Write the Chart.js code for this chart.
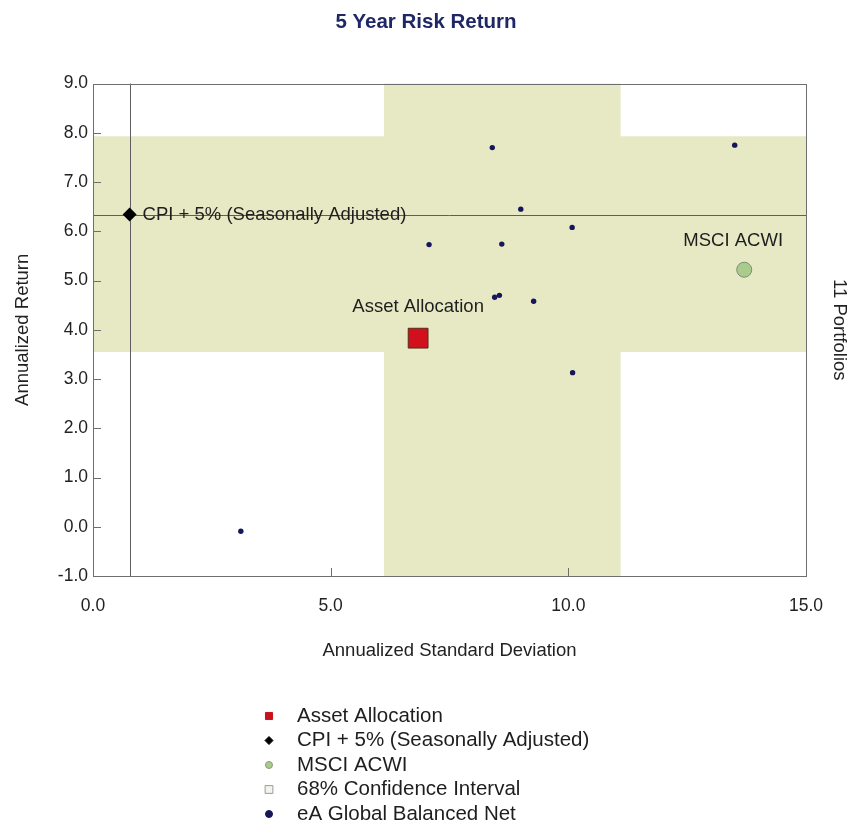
<!DOCTYPE html>
<html>
<head>
<meta charset="utf-8">
<script src="https://cdn.jsdelivr.net/npm/chart.js@4.4.1/dist/chart.umd.min.js"></script>
<style>
    html, body { margin: 0; padding: 0; background: #fff; }
    #wrap { width: 852px; height: 831px; }
</style>
</head>
<body>
<div id="wrap"><canvas id="risk-return" width="852" height="831"></canvas></div>
<script>
// eA Global Balanced Net universe (std dev / return)
const peerStdDev = [8.40, 13.50, 9.00, 10.08, 7.07, 8.60, 8.45, 8.55, 9.27, 10.09, 3.11];
const peerReturn = [7.70, 7.75, 6.45, 6.08, 5.73, 5.74, 4.66, 4.70, 4.58, 3.13, -0.09];
// Single points
const assetAllocation = [6.84, 3.83];
const cpiPlus5 = [0.77, 6.34];
const msciAcwi = [13.70, 5.22];
// 68% confidence interval bounds
const ciStdDev = [6.12, 11.10];
const ciReturn = [3.55, 7.93];
// Axis ticks
const xTicks = [0, 5, 10, 15];
const yTicks = [-1, 0, 1, 2, 3, 4, 5, 6, 7, 8, 9];

const FONT = "'Liberation Sans', Arial, sans-serif";
const bandColor = '#e6e9c4';
const lineColor = '#5e5e5e';

// Draws the confidence cross, CPI reference lines, frame and inward ticks
const bandPlugin = {
    id: 'bands',
    beforeDatasetsDraw(chart) {
        const { ctx, chartArea: a, scales: { x, y } } = chart;
        ctx.save();
        ctx.fillStyle = bandColor;
        const yTop = y.getPixelForValue(ciReturn[1]);
        const yBot = y.getPixelForValue(ciReturn[0]);
        ctx.fillRect(a.left, yTop, a.right - a.left, yBot - yTop);
        const xL = x.getPixelForValue(ciStdDev[0]);
        const xR = x.getPixelForValue(ciStdDev[1]);
        ctx.fillRect(xL, a.top, xR - xL, a.bottom - a.top);

        // CPI lines
        ctx.strokeStyle = lineColor;
        ctx.lineWidth = 1;
        const cx = Math.round(x.getPixelForValue(cpiPlus5[0])) + 0.5;
        const cy = Math.round(y.getPixelForValue(cpiPlus5[1])) + 0.5;
        ctx.beginPath();
        ctx.moveTo(cx, a.top);
        ctx.lineTo(cx, a.bottom);
        ctx.moveTo(a.left, cy);
        ctx.lineTo(a.right, cy);
        ctx.stroke();

        // frame
        ctx.strokeStyle = '#6e6e6e';
        ctx.strokeRect(Math.round(a.left) + 0.5, Math.round(a.top) + 0.5,
            Math.round(a.right - a.left), Math.round(a.bottom - a.top));

        // inward tick marks
        ctx.beginPath();
        x.ticks.forEach(t => {
            const px = Math.round(x.getPixelForValue(t.value)) + 0.5;
            ctx.moveTo(px, a.bottom);
            ctx.lineTo(px, a.bottom - 8);
        });
        y.ticks.forEach(t => {
            const py = Math.round(y.getPixelForValue(t.value)) + 0.5;
            ctx.moveTo(a.left, py);
            ctx.lineTo(a.left + 8, py);
        });
        ctx.stroke();
        ctx.restore();
    },
    afterDatasetsDraw(chart) {
        const { ctx, scales: { x, y } } = chart;
        ctx.save();
        ctx.fillStyle = '#1e1e1e';
        ctx.font = '18.5px ' + FONT;
        ctx.textBaseline = 'middle';
        ctx.textAlign = 'left';
        ctx.fillText('CPI + 5% (Seasonally Adjusted)',
            x.getPixelForValue(cpiPlus5[0]) + 13, y.getPixelForValue(cpiPlus5[1]));
        ctx.textAlign = 'center';
        ctx.fillText('Asset Allocation',
            x.getPixelForValue(assetAllocation[0]), y.getPixelForValue(assetAllocation[1]) - 31);
        ctx.fillText('MSCI ACWI',
            x.getPixelForValue(msciAcwi[0]) - 11, y.getPixelForValue(msciAcwi[1]) - 29);
        ctx.restore();
    },
    // Legend list under the chart, one item per row
    afterDraw(chart) {
        const { ctx } = chart;
        const items = [
            { text: 'Asset Allocation', style: 'rect', radius: 5, fill: '#c8101e', border: '#c8101e' },
            { text: 'CPI + 5% (Seasonally Adjusted)', style: 'rectRot', radius: 4, fill: '#000', border: '#000' },
            { text: 'MSCI ACWI', style: 'circle', radius: 3.5, fill: '#a9cc8c', border: '#8a9a80' },
            { text: '68% Confidence Interval', style: 'rect', radius: 5.5, fill: '#f4f4ec', border: '#9a9a9a' },
            { text: 'eA Global Balanced Net', style: 'circle', radius: 3.5, fill: '#16165a', border: '#16165a' }
        ];
        ctx.save();
        ctx.font = '20.5px ' + FONT;
        ctx.textBaseline = 'middle';
        ctx.textAlign = 'left';
        items.forEach((item, i) => {
            const rowY = 716 + i * 24.5;
            ctx.fillStyle = item.fill;
            ctx.strokeStyle = item.border;
            Chart.helpers.drawPoint(ctx, {
                pointStyle: item.style, radius: item.radius, rotation: 0, borderWidth: 1
            }, 269, rowY);
            ctx.fillStyle = '#1e1e1e';
            ctx.fillText(item.text, 297, rowY);
        });
        ctx.restore();
    }
};

const toPoints = (xs, ys) => xs.map((v, i) => ({ x: v, y: ys[i] }));

document.addEventListener('DOMContentLoaded', function () {
    const canvas = document.getElementById('risk-return');
    const chart = new Chart(canvas, {
        type: 'scatter',
        data: {
            datasets: [{
                label: 'eA Global Balanced Net',
                data: toPoints(peerStdDev, peerReturn),
                backgroundColor: '#16165a',
                borderWidth: 0,
                pointRadius: 2.7
            }, {
                label: 'Asset Allocation',
                data: [{ x: assetAllocation[0], y: assetAllocation[1] }],
                pointStyle: 'rect',
                pointRadius: 14,
                backgroundColor: '#d0101c',
                borderColor: '#5a2a1a',
                borderWidth: 1
            }, {
                label: 'MSCI ACWI',
                data: [{ x: msciAcwi[0], y: msciAcwi[1] }],
                pointRadius: 7.5,
                backgroundColor: '#a9cc8c',
                borderColor: '#7e8c76',
                borderWidth: 1
            }, {
                label: 'CPI + 5% (Seasonally Adjusted)',
                data: [{ x: cpiPlus5[0], y: cpiPlus5[1] }],
                pointStyle: 'rectRot',
                pointRadius: 7,
                backgroundColor: '#000',
                borderWidth: 0
            }]
        },
        options: {
            responsive: false,
            animation: false,
            layout: { padding: { left: 0, right: 0, top: 0, bottom: 165 } },
            plugins: {
                legend: { display: false },
                tooltip: { enabled: false },
                title: {
                    display: true,
                    text: '5 Year Risk Return',
                    color: '#1f2766',
                    font: { family: FONT, size: 20.5, weight: 'bold' },
                    padding: { top: 10, bottom: 49 }
                }
            },
            scales: {
                x: {
                    type: 'linear',
                    min: 0,
                    max: 15,
                    afterBuildTicks: s => { s.ticks = xTicks.map(v => ({ value: v })); },
                    afterFit: s => { s.height = 90; },
                    grid: { display: false },
                    border: { display: false },
                    ticks: {
                        color: '#222',
                        font: { family: FONT, size: 17.5 },
                        padding: 12,
                        callback: v => v.toFixed(1)
                    },
                    title: {
                        display: true,
                        text: 'Annualized Standard Deviation',
                        color: '#222',
                        font: { family: FONT, size: 18.5 },
                        padding: { top: 0, bottom: 4 }
                    }
                },
                y: {
                    type: 'linear',
                    min: -1,
                    max: 9,
                    afterBuildTicks: s => { s.ticks = yTicks.map(v => ({ value: v })); },
                    afterFit: s => { s.width = 93; },
                    grid: { display: false },
                    border: { display: false },
                    ticks: {
                        color: '#222',
                        font: { family: FONT, size: 17.5 },
                        padding: -3,
                        callback: v => v.toFixed(1)
                    },
                    title: {
                        display: true,
                        text: 'Annualized Return',
                        color: '#222',
                        font: { family: FONT, size: 18.5 },
                        padding: { top: 12, bottom: 0 }
                    }
                },
                y2: {
                    type: 'linear',
                    position: 'right',
                    min: -1,
                    max: 9,
                    afterFit: s => { s.width = 46; },
                    grid: { display: false },
                    border: { display: false },
                    ticks: { display: false },
                    title: {
                        display: true,
                        text: '11 Portfolios',
                        color: '#222',
                        font: { family: FONT, size: 18.5 },
                        padding: { top: 2, bottom: 0 }
                    }
                }
            }
        },
        plugins: [bandPlugin]
    });
}, true);
</script>
</body>
</html>
